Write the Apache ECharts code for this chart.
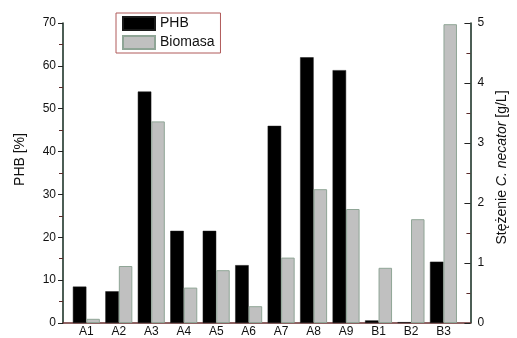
<!DOCTYPE html>
<html><head><meta charset="utf-8">
<script src="https://cdn.jsdelivr.net/npm/echarts@6/dist/echarts.min.js"></script>
<style>html,body{margin:0;padding:0;background:#fff}#c{width:517px;height:338px}</style>
</head><body><div id="c"></div>
<script>
const categories = ['A1','A2','A3','A4','A5','A6','A7','A8','A9','B1','B2','B3'];
const phb = [8.5, 7.4, 54, 21.5, 21.5, 13.5, 46, 62, 59, 0.6, 0.2, 14.3];
const biomasa = [0.07, 0.95, 3.36, 0.59, 0.88, 0.28, 1.09, 2.23, 1.9, 0.92, 1.73, 4.98];
const leftTicks = [0, 10, 20, 30, 40, 50, 60, 70];
const rightTicks = [0, 1, 2, 3, 4, 5];
const positions = categories.map((c, i) => i + 1);

const font = 'Liberation Sans, Arial, sans-serif';
const chart = echarts.init(document.getElementById('c'));
chart.setOption({
  backgroundColor: '#fff',
  animation: false,
  grid: { left: 63, right: 36, top: 23, bottom: 13 },
  legend: {
    orient: 'vertical', left: 116, top: 13,
    padding: [3, 6, 3, 6],
    icon: 'rect',
    itemWidth: 32, itemHeight: 13, itemGap: 4,
    borderColor: '#b05a5a', borderWidth: 1,
    textStyle: { fontFamily: font, fontSize: 14, color: '#111', lineHeight: 14 },
    data: ['PHB', 'Biomasa']
  },
  xAxis: {
    type: 'value', min: 0.28, max: 12.83,
    splitLine: { show: false },
    axisLine: { show: true, lineStyle: { color: '#6a3030', width: 1.5 } },
    axisTick: { show: false },
    axisLabel: {
      customValues: positions, margin: 3,
      fontFamily: font, fontSize: 12, color: '#111',
      formatter: v => categories[Math.round(v) - 1] || ''
    }
  },
  yAxis: [
    {
      type: 'value', min: leftTicks[0], max: leftTicks[leftTicks.length - 1], interval: 10,
      position: 'left',
      name: 'PHB [%]', nameLocation: 'middle', nameGap: 36, nameRotate: 90,
      nameTextStyle: { fontFamily: font, fontSize: 14, color: '#111', padding: [0, 0, 0, 27] },
      splitLine: { show: false },
      axisLine: { show: true, lineStyle: { color: '#10281c', width: 1.5 } },
      axisTick: { show: true, inside: false, length: 5, lineStyle: { color: '#222' } },
      minorTick: { show: true, splitNumber: 2, length: 4, lineStyle: { color: '#5a2a2a', width: 1 } },
      axisLabel: { margin: 7, fontFamily: font, fontSize: 12, color: '#111' }
    },
    {
      type: 'value', min: rightTicks[0], max: rightTicks[rightTicks.length - 1], interval: 1,
      position: 'right',
      name: '{n|Stężenie }{i|C. necator}{n| [g/L]}', nameLocation: 'middle', nameGap: 21, nameRotate: 90,
      nameTextStyle: {
        fontFamily: font, fontSize: 14, color: '#111', padding: [0, 0, 0, 11],
        rich: {
          n: { fontFamily: font, fontSize: 14, color: '#111' },
          i: { fontFamily: font, fontSize: 14, color: '#111', fontStyle: 'italic' }
        }
      },
      splitLine: { show: false },
      axisLine: { show: true, lineStyle: { color: '#10281c', width: 1.5 } },
      axisTick: { show: true, inside: true, length: 6, lineStyle: { color: '#222' } },
      minorTick: { show: true, splitNumber: 2, length: 4, lineStyle: { color: '#5a2a2a', width: 1 } },
      axisLabel: { margin: 7, fontFamily: font, fontSize: 12, color: '#111' }
    }
  ],
  series: [
    {
      name: 'PHB', type: 'bar', yAxisIndex: 0,
      barWidth: 13.5, barGap: '0%',
      itemStyle: { color: '#000', borderColor: '#1a1a1a', borderWidth: 0.5 },
      data: positions.map((p, i) => [p, phb[i]])
    },
    {
      name: 'Biomasa', type: 'bar', yAxisIndex: 1,
      barWidth: 13.5, barGap: '0%',
      itemStyle: { color: '#c0c0c0', borderColor: '#8fa596', borderWidth: 1 },
      data: positions.map((p, i) => [p, biomasa[i]])
    }
  ]
});
</script>
</body></html>
